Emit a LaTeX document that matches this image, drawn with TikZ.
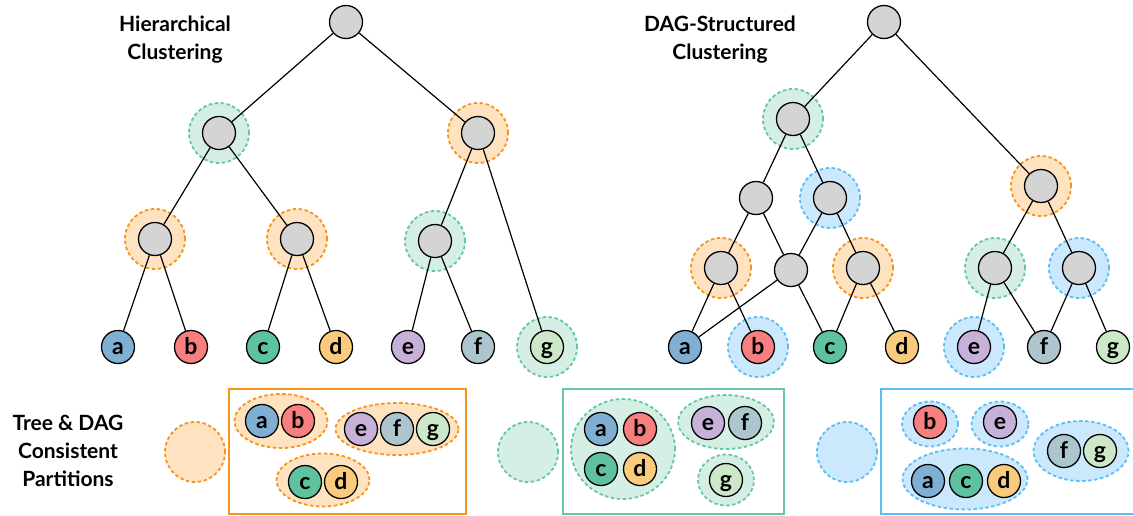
\documentclass[tikz,border=0pt]{standalone}
\usepackage{fontspec}
\setmainfont{Lato}
\usetikzlibrary{shapes.geometric}

\definecolor{nodegray}{HTML}{D4D4D4}
\definecolor{leafa}{HTML}{7FAFD3}
\definecolor{leafb}{HTML}{F77F7F}
\definecolor{leafc}{HTML}{5DC29D}
\definecolor{leafd}{HTML}{FACB7C}
\definecolor{leafe}{HTML}{C8B1D8}
\definecolor{leaff}{HTML}{ADC6CE}
\definecolor{leafg}{HTML}{CDE8C8}
\definecolor{orgline}{HTML}{F7941D}
\definecolor{orgfill}{HTML}{FFE3C0}
\definecolor{grnline}{HTML}{66C7A2}
\definecolor{grnfill}{HTML}{D5EFE5}
\definecolor{bluline}{HTML}{5BBFF5}
\definecolor{blufill}{HTML}{CBE8FD}

\begin{document}
\begin{tikzpicture}[x=1pt, y=-1pt, line width=1.2pt,
    inner/.style={draw, circle, fill=nodegray, minimum size=33pt, inner sep=0pt,
      line width=1.3pt},
    leaf/.style={inner, fill=#1, font=\bfseries\fontsize{23}{23}\selectfont,
      text height=14pt, text depth=0pt},
    halo/.style={circle, minimum size=60pt, draw=#1line, fill=#1fill,
      line width=1.8pt, dash pattern=on 3.5pt off 2.5pt},
    group/.style={ellipse, inner sep=0pt, draw=#1line, fill=#1fill,
      line width=1.8pt, dash pattern=on 3.5pt off 2.5pt},
    title/.style={font=\bfseries\fontsize{21}{28}\selectfont, align=center}]
  \useasboundingbox (0,0) rectangle (1133,515);

  \node[title] (ttree) at (175,40) {Hierarchical\\Clustering};
  \node[title] (tdag) at (720,40) {DAG-Structured\\Clustering};
  \node[title] (tpart) at (68,451) {Tree \& DAG\\Consistent\\Partitions};

  % hierarchical tree
  \node[halo=grn] (HT2) at (219,133) {};
  \node[halo=org] (HT3) at (478,133) {};
  \node[halo=org] (HT4) at (155,239) {};
  \node[halo=org] (HT5) at (297,239) {};
  \node[halo=grn] (HT6) at (435,241) {};
  \node[halo=grn] (HTg) at (547,347) {};

  \node[inner] (T1) at (346,22) {};
  \node[inner] (T2) at (219,133) {};
  \node[inner] (T3) at (478,133) {};
  \node[inner] (T4) at (155,239) {};
  \node[inner] (T5) at (297,239) {};
  \node[inner] (T6) at (435,241) {};
  \node[leaf=leafa] (Ta) at (118,347) {a};
  \node[leaf=leafb] (Tb) at (191,347) {b};
  \node[leaf=leafc] (Tc) at (263,347) {c};
  \node[leaf=leafd] (Td) at (336,347) {d};
  \node[leaf=leafe] (Te) at (408,347) {e};
  \node[leaf=leaff] (Tf) at (478,347) {f};
  \node[leaf=leafg] (Tg) at (547,347) {g};

  \draw (T1) -- (T2);
  \draw (T1) -- (T3);
  \draw (T2) -- (T4);
  \draw (T2) -- (T5);
  \draw (T3) -- (T6);
  \draw (T3) -- (Tg);
  \draw (T4) -- (Ta);
  \draw (T4) -- (Tb);
  \draw (T5) -- (Tc);
  \draw (T5) -- (Td);
  \draw (T6) -- (Te);
  \draw (T6) -- (Tf);

  % DAG
  \node[halo=grn] (HD2) at (793,119) {};
  \node[halo=blu] (HD4) at (830,198) {};
  \node[halo=org] (HD5) at (721,268) {};
  \node[halo=org] (HD7) at (863,268) {};
  \node[halo=org] (HD8) at (1041,186) {};
  \node[halo=grn] (HD9) at (995,268) {};
  \node[halo=blu] (HD10) at (1079,268) {};
  \node[halo=blu] (HDb) at (758,347) {};
  \node[halo=blu] (HDe) at (974,347) {};

  \node[inner] (D1) at (884,22) {};
  \node[inner] (D2) at (793,119) {};
  \node[inner] (D3) at (756,198) {};
  \node[inner] (D4) at (830,198) {};
  \node[inner] (D5) at (721,268) {};
  \node[inner] (D6) at (791,270) {};
  \node[inner] (D7) at (863,268) {};
  \node[inner] (D8) at (1041,186) {};
  \node[inner] (D9) at (995,268) {};
  \node[inner] (D10) at (1079,268) {};
  \node[leaf=leafa] (Da) at (685,347) {a};
  \node[leaf=leafb] (Db) at (758,347) {b};
  \node[leaf=leafc] (Dc) at (830,347) {c};
  \node[leaf=leafd] (Dd) at (902,347) {d};
  \node[leaf=leafe] (De) at (974,347) {e};
  \node[leaf=leaff] (Df) at (1044,347) {f};
  \node[leaf=leafg] (Dg) at (1113,347) {g};

  \draw (D1) -- (D2);
  \draw (D1) -- (D8);
  \draw (D2) -- (D3);
  \draw (D2) -- (D4);
  \draw (D3) -- (D5);
  \draw (D3) -- (D6);
  \draw (D4) -- (D6);
  \draw (D4) -- (D7);
  \draw (D5) -- (Da);
  \draw (D5) -- (Db);
  \draw (D6) -- (Da);
  \draw (D6) -- (Dc);
  \draw (D7) -- (Dc);
  \draw (D7) -- (Dd);
  \draw (D8) -- (D9);
  \draw (D8) -- (D10);
  \draw (D9) -- (De);
  \draw (D9) -- (Df);
  \draw (D10) -- (Df);
  \draw (D10) -- (Dg);

  % partitions
  \node[halo=org] (swo) at (195,452) {};
  \draw[orgline, line width=1.4pt] (229,389) rectangle (466,514);
  \node[group=org, minimum width=93pt, minimum height=54pt] (Pab) at (281,421) {};
  \node[group=org, minimum width=123pt, minimum height=52pt] (Pefg) at (397,429) {};
  \node[group=org, minimum width=93pt, minimum height=53pt] (Pcd) at (323,480) {};
  \node[leaf=leafa] (Pa) at (262,421) {a};
  \node[leaf=leafb] (Pb) at (298,421) {b};
  \node[leaf=leafe] (Pe) at (361,429) {e};
  \node[leaf=leaff] (Pf) at (397,429) {f};
  \node[leaf=leafg] (Pg) at (433,429) {g};
  \node[leaf=leafc] (Pc) at (305,482) {c};
  \node[leaf=leafd] (Pd) at (341,482) {d};

  \node[halo=grn] (swg) at (528,452) {};
  \draw[grnline, line width=1.4pt] (563,389) rectangle (784,514);
  \node[group=grn, minimum width=104pt, minimum height=100pt] (Qabcd) at (623,449) {};
  \node[group=grn, minimum width=96pt, minimum height=54pt] (Qef) at (726,422) {};
  \node[group=grn, minimum width=56pt, minimum height=51pt] (Qgg) at (726,480) {};
  \node[leaf=leafa] (Qa) at (601,429) {a};
  \node[leaf=leafb] (Qb) at (640,429) {b};
  \node[leaf=leafc] (Qc) at (601,469) {c};
  \node[leaf=leafd] (Qd) at (640,469) {d};
  \node[leaf=leafe] (Qe) at (708,423) {e};
  \node[leaf=leaff] (Qf) at (745,423) {f};
  \node[leaf=leafg] (Qg) at (726,480) {g};

  \node[halo=blu] (swb) at (847,452) {};
  \draw[bluline, line width=1.4pt] (881,389) rectangle (1140,514);
  \node[group=blu, minimum width=56pt, minimum height=45pt] (Rb) at (930,424) {};
  \node[group=blu, minimum width=57pt, minimum height=45pt] (Re) at (1000,424) {};
  \node[group=blu, minimum width=95pt, minimum height=60pt] (Rfg) at (1081,451) {};
  \node[group=blu, minimum width=125pt, minimum height=61pt] (Racd) at (965,479) {};
  \node[leaf=leafb] (Sb) at (930,422) {b};
  \node[leaf=leafe] (Se) at (1000,422) {e};
  \node[leaf=leaff] (Sf) at (1064,451) {f};
  \node[leaf=leafg] (Sg) at (1100,451) {g};
  \node[leaf=leafa] (Sa) at (928,481) {a};
  \node[leaf=leafc] (Sc) at (966,481) {c};
  \node[leaf=leafd] (Sd) at (1004,481) {d};
\end{tikzpicture}
\end{document}
